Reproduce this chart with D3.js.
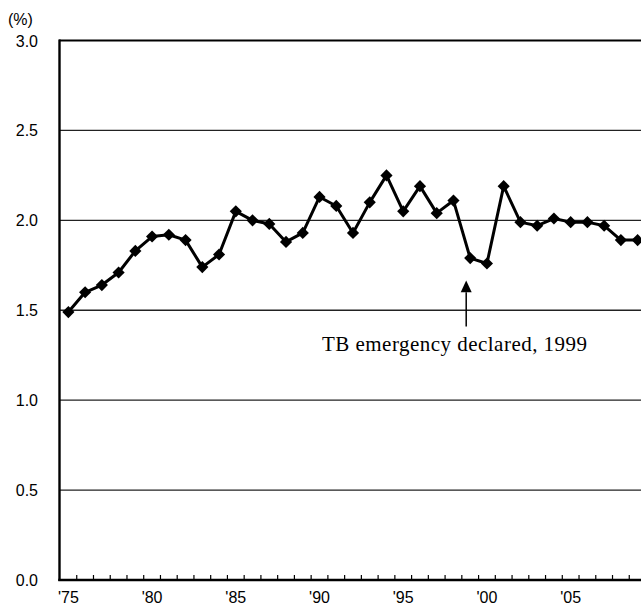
<!DOCTYPE html>
<html>
<head>
<meta charset="utf-8">
<script src="https://cdn.jsdelivr.net/npm/d3@7"></script>
<style>
  body { margin: 0; background: #fff; }
  .tick_label { font-family: "Liberation Sans", Arial, sans-serif; font-size: 16px; fill: #000; }
  .note { font-family: "Liberation Serif", "Times New Roman", serif; font-size: 21px; fill: #000; }
</style>
</head>
<body>
<div class="chart"></div>
<script>
// data
var years = [1975, 1976, 1977, 1978, 1979, 1980, 1981, 1982, 1983, 1984,
             1985, 1986, 1987, 1988, 1989, 1990, 1991, 1992, 1993, 1994,
             1995, 1996, 1997, 1998, 1999, 2000, 2001, 2002, 2003, 2004,
             2005, 2006, 2007, 2008, 2009]
var rates = [1.49, 1.60, 1.64, 1.71, 1.83, 1.91, 1.92, 1.89, 1.74, 1.81,
             2.05, 2.00, 1.98, 1.88, 1.93, 2.13, 2.08, 1.93, 2.10, 2.25,
             2.05, 2.19, 2.04, 2.11, 1.79, 1.76, 2.19, 1.99, 1.97, 2.01,
             1.99, 1.99, 1.97, 1.89, 1.89]
var yTicks = [0, 0.5, 1.0, 1.5, 2.0, 2.5, 3.0]
var labelYears = [1975, 1980, 1985, 1990, 1995, 2000, 2005]
var xLabels = ["'75", "'80", "'85", "'90", "'95", "'00", "'05"]
var note = "TB emergency declared, 1999"
var noteYear = 1999

let svg = d3.select('div.chart').append('svg')
  .attr('width', 641)
  .attr('height', 613)

//Scale
let x = d3.scaleBand()
  .domain(years)
  .range([60, 646])

let y = d3.scaleLinear()
  .domain([0, 3])
  .range([580, 40.5])

let cx = d => x(d) + x.bandwidth() / 2

//grid
svg.append('g')
  .selectAll('line')
  .data(yTicks.filter(d => d > 0 && d < 3))
  .enter()
  .append('line')
  .attr('x1', 59)
  .attr('x2', 641)
  .attr('y1', d => y(d))
  .attr('y2', d => y(d))
  .attr('stroke', '#222')
  .attr('stroke-width', 1.3)

// top line
svg.append('line')
  .attr('x1', 59).attr('x2', 641)
  .attr('y1', y(3)).attr('y2', y(3))
  .attr('stroke', '#000')
  .attr('stroke-width', 2)

//Axis_y
svg.append('line')
  .attr('x1', 59.5).attr('x2', 59.5)
  .attr('y1', y(3) - 1).attr('y2', y(0) + 1)
  .attr('stroke', '#000')
  .attr('stroke-width', 2.4)

svg.append('g')
  .selectAll('text')
  .data(yTicks)
  .enter()
  .append('text')
  .attr('class', 'tick_label')
  .attr('x', 38)
  .attr('y', d => y(d) + 6)
  .attr('text-anchor', 'end')
  .text(d => d.toFixed(1))

svg.append('text')
  .attr('class', 'tick_label')
  .attr('x', 8)
  .attr('y', 25)
  .text('(%)')

//Axis_x
svg.append('g')
  .selectAll('line')
  .data(years.slice(1))
  .enter()
  .append('line')
  .attr('x1', d => x(d))
  .attr('x2', d => x(d))
  .attr('y1', y(0))
  .attr('y2', y(0) - 5)
  .attr('stroke', '#000')
  .attr('stroke-width', 1.2)

svg.append('line')
  .attr('x1', 58.3).attr('x2', 641)
  .attr('y1', y(0)).attr('y2', y(0))
  .attr('stroke', '#000')
  .attr('stroke-width', 2.4)

svg.append('g')
  .selectAll('text')
  .data(labelYears)
  .enter()
  .append('text')
  .attr('class', 'tick_label')
  .attr('x', d => cx(d))
  .attr('y', 603)
  .attr('text-anchor', 'middle')
  .text((d, i) => xLabels[i])

//line
let line = d3.line()
  .x((d, i) => cx(years[i]))
  .y(d => y(d))

svg.append('path')
  .datum(rates)
  .attr('d', line)
  .attr('fill', 'none')
  .attr('stroke', '#000')
  .attr('stroke-width', 3)
  .attr('stroke-linejoin', 'round')

//markers
svg.append('g')
  .selectAll('path')
  .data(rates)
  .enter()
  .append('path')
  .attr('d', d3.symbol().type(d3.symbolSquare).size(74))
  .attr('transform', (d, i) => 'translate(' + cx(years[i]) + ',' + y(d) + ') rotate(45)')
  .attr('fill', '#000')

//annotation
let ax = cx(noteYear) - 4
svg.append('line')
  .attr('x1', ax).attr('x2', ax)
  .attr('y1', y(1.41)).attr('y2', y(1.6))
  .attr('stroke', '#000')
  .attr('stroke-width', 1.5)

svg.append('path')
  .attr('d', 'M' + ax + ',' + y(1.665) + 'L' + (ax + 5.5) + ',' + y(1.6) + 'L' + (ax - 5.5) + ',' + y(1.6) + 'Z')
  .attr('fill', '#000')

svg.append('text')
  .attr('class', 'note')
  .attr('x', 322)
  .attr('y', 351)
  .attr('textLength', 265)
  .attr('lengthAdjust', 'spacing')
  .text(note)
</script>
</body>
</html>
